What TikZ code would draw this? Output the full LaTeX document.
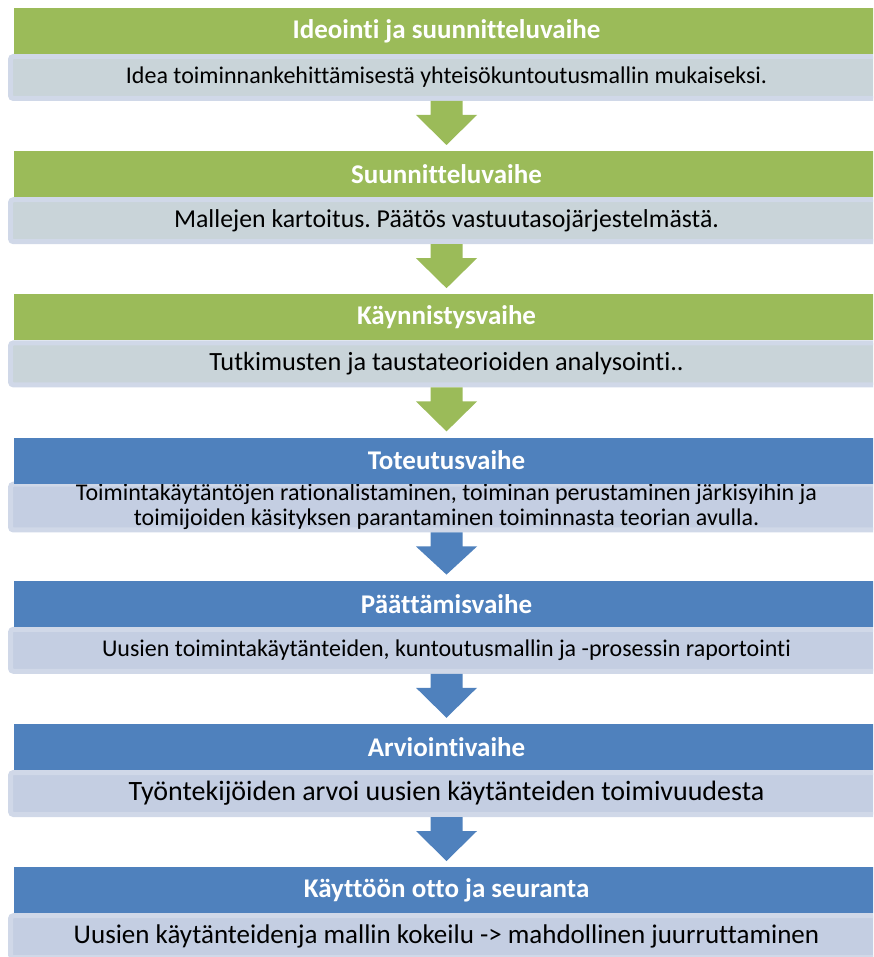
\documentclass[tikz,border=0pt]{standalone}
\usepackage{fontspec}
\setmainfont{Carlito}[Ligatures=NoCommon]
\frenchspacing
\definecolor{phasegreen}{RGB}{155, 187, 89}
\definecolor{phaseblue}{RGB}{79, 129, 189}
\definecolor{notegray}{RGB}{201, 212, 217}
\definecolor{noteblue}{RGB}{196, 206, 226}
\definecolor{noteedge}{RGB}{208, 216, 232}
\usepackage{tikz}
\usetikzlibrary{calc}

\begin{document}
\begin{tikzpicture}[x=1pt, y=-1pt,
  head/.style={minimum width=865pt, minimum height=46pt, inner sep=0pt,
               text=white, font=\fontsize{27}{30}\selectfont\bfseries},
  note/.style={draw=noteedge, line width=5pt, rounded corners=3pt,
               minimum width=872pt, minimum height=42pt, inner sep=0pt,
               align=center, font=\fontsize{24}{28}\selectfont},
]
\useasboundingbox (0,0) rectangle (873,957);
\clip (0,0) rectangle (873,957);

% Notes first, headers drawn over them
\node[note, fill=notegray] (s1) at (446.5, 77.5)
  {Idea toiminnankehittämisestä yhteisökuntoutusmallin mukaiseksi.};
\node[note, fill=notegray, font=\fontsize{25.8}{28}\selectfont] (s2) at (446.5, 220.7)
  {Mallejen kartoitus. Päätös vastuutasojärjestelmästä.};
\node[note, fill=notegray, font=\fontsize{26.3}{28}\selectfont] (s3) at (446.5, 363.9)
  {Tutkimusten ja taustateorioiden analysointi..};
\node[note, fill=noteblue, font=\fontsize{24}{25}\selectfont] (s4) at (446.5, 507.1)
  {Toimintakäytäntöjen rationalistaminen, toiminan perustaminen järkisyihin ja\\
   toimijoiden käsityksen parantaminen toiminnasta teorian avulla.};
\node[note, fill=noteblue] (s5) at (446.5, 650.3)
  {Uusien toimintakäytänteiden, kuntoutusmallin ja -prosessin raportointi};
\node[note, fill=noteblue, font=\fontsize{28}{30}\selectfont] (s6) at (446.5, 793.5)
  {Työntekijöiden arvoi uusien käytänteiden toimivuudesta};
\node[note, fill=noteblue, font=\fontsize{27}{30}\selectfont] (s7) at (446.5, 936.7)
  {Uusien käytänteidenja mallin kokeilu -> mahdollinen juurruttaminen};

% Phase headers
\node[head, fill=phasegreen] (h1) at (446.5, 31) {Ideointi ja suunnitteluvaihe};
\node[head, fill=phasegreen] (h2) at (446.5, 174.2) {Suunnitteluvaihe};
\node[head, fill=phasegreen] (h3) at (446.5, 317.4) {Käynnistysvaihe};
\node[head, fill=phaseblue] (h4) at (446.5, 460.6) {Toteutusvaihe};
\node[head, fill=phaseblue] (h5) at (446.5, 603.8) {Päättämisvaihe};
\node[head, fill=phaseblue] (h6) at (446.5, 747) {Arviointivaihe};
\node[head, fill=phaseblue] (h7) at (446.5, 890.2) {Käyttöön otto ja seuranta};

% Block arrows between phases
\foreach \a/\b/\c in {s1/h2/phasegreen, s2/h3/phasegreen, s3/h4/phasegreen,
                      s4/h5/phaseblue, s5/h6/phaseblue, s6/h7/phaseblue}
  \fill[\c] ($(\a.south)+(-16,0)$) -- ($(\a.south)+(16,0)$)
    -- ($(\a.south)+(16,14)$) -- ($(\a.south)+(30.5,14)$)
    -- ($(\b.north)+(0,-6)$)
    -- ($(\a.south)+(-30.5,14)$) -- ($(\a.south)+(-16,14)$) -- cycle;
\end{tikzpicture}
\end{document}
